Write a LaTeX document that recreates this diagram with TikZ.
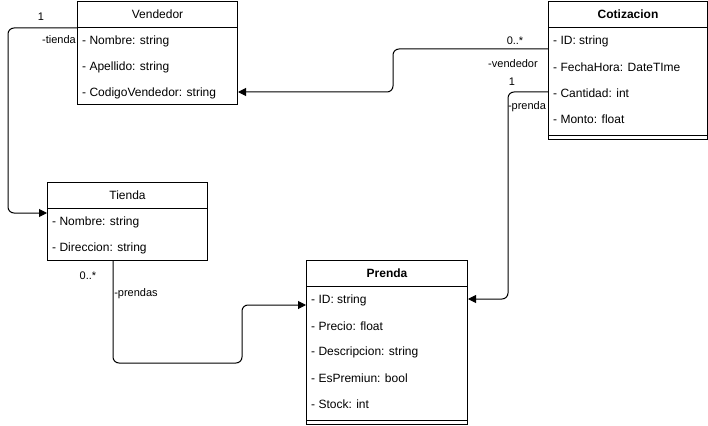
\documentclass[tikz,border=0pt]{standalone}
\usepackage{fontspec}
\setmainfont{Liberation Sans}
\usetikzlibrary{arrows.meta}
\begin{document}
\begin{tikzpicture}[x=1pt,y=-1pt,
  box/.style={draw,line width=1pt,inner sep=0pt,anchor=north west,minimum width=160pt},
  hdr/.style={box,minimum height=26pt,font=\fontsize{12}{14}\selectfont},
  body/.style={box,minimum height=#1},
  attr/.style={anchor=west,inner sep=0pt,yshift=-1pt,font=\fontsize{12}{14}\selectfont},
  lbl/.style={inner sep=0pt,font=\fontsize{11}{13}\selectfont},
  conn/.style={line width=1pt,rounded corners=6pt,-{Triangle[length=8pt,width=8pt]}}
]
\useasboundingbox (0,0) rectangle (708,425);
% Vendedor
\node[hdr] (vh) at (77,1) {Vendedor};
\node[body=77pt] (vb) at (77,27) {};
\node[attr] (v1) at (82,40) {- Nombre: string};
\node[attr] (v2) at (82,66) {- Apellido: string};
\node[attr] (v3) at (82,92) {- CodigoVendedor: string};
% Cotizacion
\node[hdr,font=\fontsize{12}{14}\selectfont\bfseries,minimum width=159pt] (ch) at (548,1) {Cotizacion};
\node[body=112pt,minimum width=159pt] (cb) at (548,27) {};
\draw[line width=1pt] ([yshift=-108pt]cb.north west) -- ([yshift=-108pt]cb.north east);
\node[attr] (c1) at (553,40) {- ID: string};
\node[attr] (c2) at (553,66) {- FechaHora: DateTIme};
\node[attr] (c3) at (553,92) {- Cantidad: int};
\node[attr] (c4) at (553,118) {- Monto: float};
% Tienda
\node[hdr] (th) at (47,182) {Tienda};
\node[body=52pt] (tb) at (47,208) {};
\node[attr] (t1) at (52,221) {- Nombre: string};
\node[attr] (t2) at (52,247) {- Direccion: string};
% Prenda
\node[hdr,font=\fontsize{12}{14}\selectfont\bfseries,minimum width=161pt] (ph) at (306,260) {Prenda};
\node[body=138pt,minimum width=161pt] (pb) at (306,286) {};
\draw[line width=1pt] ([yshift=-134pt]pb.north west) -- ([yshift=-134pt]pb.north east);
\node[attr] (p1) at (311,299) {- ID: string};
\node[attr] (p2) at (311,325) {- Precio: float};
\node[attr] (p3) at (311,351) {- Descripcion: string};
\node[attr] (p4) at (311,377) {- EsPremiun: bool};
\node[attr] (p5) at (311,403) {- Stock: int};
% Connectors
\draw[conn] (vh.south west) -- ++(-69,0) |- ([yshift=-5pt]tb.north west);
\draw[conn] ([yshift=-22pt]cb.north west) -- ++(-155,0) |- ([yshift=13pt]vb.south east);
\draw[conn] ([yshift=-65pt]cb.north west) -- ++(-40,0) |- ([yshift=-13pt]pb.north east);
\draw[conn] ([xshift=66pt]tb.south west) -- ++(0,102) -- ++(129,0) |- ([yshift=-19pt]pb.north west);
% Labels
\node[lbl] (l1) at (41,17) {1};
\node[lbl,anchor=east] (l2) at (76,40) {-tienda};
\node[lbl] (l3) at (515,41) {0..*};
\node[lbl] (l4) at (513,64) {-vendedor};
\node[lbl] (l5) at (512,82) {1};
\node[lbl] (l6) at (527,107) {-prenda};
\node[lbl] (l7) at (88,276) {0..*};
\node[lbl] (l8) at (136,294) {-prendas};
\end{tikzpicture}
\end{document}
